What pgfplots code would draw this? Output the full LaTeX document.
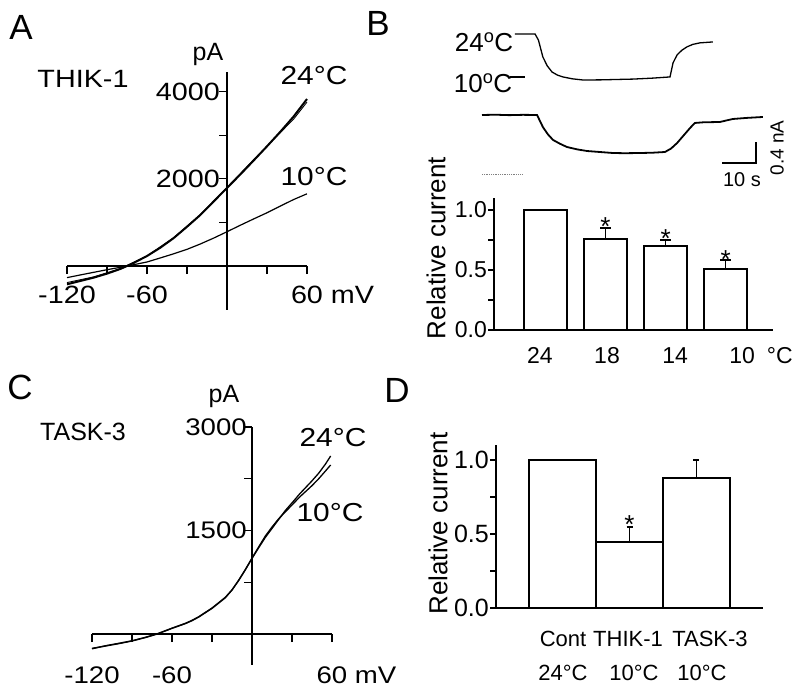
\documentclass[border=0pt]{standalone}
\usepackage{pgfplots}
\pgfplotsset{compat=1.18}
\usepackage{fontspec}
\setmainfont{Liberation Sans}
\newfontfamily\fnum{Liberation Sans}[FakeStretch=1.15]
\newcommand{\fs}[1]{\fontsize{#1}{#1}\selectfont}

\pgfplotsset{
  ivaxis/.style={
    scale only axis,
    axis lines*=middle,
    axis line style={line width=1.2pt, black},
    tick align=center,
    major tick length=8pt,
    minor tick length=8pt,
    xtick style={line width=1.2pt, black, yshift=-4pt},
    ytick style={line width=1.2pt, black, xshift=-4pt},
    clip=false,
    xtick={-120,-90,-60,-30,0,30,60},
    xticklabels={-120,,-60,,,,{60\rlap{ mV}}},
    ticklabel style={inner sep=1pt},
  },
  barax/.style={
    scale only axis,
    axis x line*=bottom,
    axis y line*=left,
    axis line style={line width=1.2pt, black},
    tick style={line width=1.2pt, black},
    tick align=outside,
    major tick length=6pt,
    minor tick length=6pt,
    ymin=0,
    ytick={0,0.5,1}, minor ytick={0.25,0.75},
    /pgf/number format/assume math mode=true,
    /pgf/number format/fixed,
    /pgf/number format/fixed zerofill,
    /pgf/number format/precision=1,
    yticklabel style={inner sep=1pt},
    xtick style={draw=none},
    ybar, clip=false,
  },
  hidax/.style={scale only axis, hide axis, clip=false, xmin=0, xmax=82.6, width=280.8pt},
}

\begin{document}
\begin{tikzpicture}[x=1pt,y=1pt]
\path[use as bounding box] (0,0) rectangle (800,695);

% ---------------- Panel A ----------------
\begin{axis}[ivaxis, at={(67pt,385pt)}, anchor=south west, width=240pt, height=238pt,
  xmin=-120, xmax=60, ymin=-1009, ymax=4450,
  ytick={1000,2000,3000,4000}, yticklabels={,2000,,4000},
  xticklabel style={font=\fnum\fs{25}, yshift=-15pt},
  yticklabel style={font=\fnum\fs{25}, xshift=-2pt}]
\addplot[black, line width=1.2pt] coordinates {
(-120,-267) (-110,-205) (-100,-145) (-90,-85) (-80,-30) (-75,0) (-70,30) (-60,92) (-50,185)
(-40,280) (-30,382) (-20,505) (-15,573) (-10,640) (0,786) (10,935) (20,1080) (30,1221)
(40,1375) (50,1525) (60,1656)};
\addplot[black, line width=2pt] coordinates {
(-120,-420) (-110,-343) (-100,-267) (-90,-175) (-80,-68) (-75,0) (-70,70) (-60,229) (-50,420)
(-40,640) (-30,900) (-20,1170) (-10,1480) (0,1790) (10,2100) (20,2420) (30,2745)
(40,3080) (50,3430) (60,3830)};
\addplot[black, line width=0.9pt] coordinates {
(-120,-380) (-100,-250) (-80,-60) (-60,232) (-40,650) (-20,1180) (0,1800) (20,2440)
(40,3060) (50,3370) (60,3760)};
\end{axis}
\node[font=\fs{35}] at (21,668) {A};
\node[font=\fs{25}] at (208,640) {pA};
\node[font=\fnum\fs{25}] at (83,616) {THIK-1};
\node[font=\fnum\fs{26}] at (314,619) {24°C};
\node[font=\fnum\fs{26}] at (314,518) {10°C};

% ---------------- Panel C ----------------
\begin{axis}[ivaxis, at={(92pt,30pt)}, anchor=south west, width=240pt, height=238pt,
  xmin=-120, xmax=60, ymin=-449, ymax=3000,
  ytick={750,1500,2250,3000}, yticklabels={,1500,,3000},
  xticklabel style={font=\fnum\fs{24}, yshift=-28pt},
  yticklabel style={font=\fnum\fs{24}}]
\addplot[black, line width=1.3pt] coordinates {
(-120,-207) (-110,-175) (-100,-140) (-90,-101) (-80,-52) (-71,0) (-60,82) (-50,150)
(-45,193) (-40,245) (-30,371) (-20,525) (-15,637) (-10,775) (-5,930) (0,1095) (5,1250)
(10,1400) (15,1530) (20,1660) (25,1790) (30,1900) (36,2036) (45,2220) (50,2330) (55,2460) (59,2580)};
\addplot[black, line width=1.3pt] coordinates {
(-120,-215) (-110,-170) (-100,-135) (-90,-98) (-80,-48) (-71,4) (-60,85) (-50,155)
(-45,198) (-40,250) (-30,377) (-20,532) (-15,640) (-10,780) (-5,935) (0,1100) (5,1262)
(10,1420) (15,1550) (20,1670) (25,1770) (30,1870) (36,1990) (45,2150) (50,2250) (55,2360) (59,2450)};
\end{axis}
\node[font=\fs{35}] at (20,308) {C};
\node[font=\fs{25}] at (224,298) {pA};
\node[font=\fs{25}] at (83,263) {TASK-3};
\node[font=\fnum\fs{26}] at (333,257) {24°C};
\node[font=\fnum\fs{26}] at (330,182) {10°C};

% ---------------- Panel B traces ----------------
\begin{axis}[hidax, at={(482pt,602.7pt)}, anchor=south west, height=61.4pt, ymin=5, ymax=25]
\addplot[black, line width=1.3pt] coordinates {
(9.7,24) (15.6,24) (16.6,22.0) (17.9,16.5) (19.2,13.6) (20.6,11.6) (22.2,10.6) (23.8,10.0)
(26.5,9.4) (29.7,9.0) (35,9.05) (44.4,9.3) (50,9.6) (55.3,10.0) (56.2,14.6) (57.4,17.2)
(58.8,18.7) (60.3,19.8) (62,20.6) (64.1,21.1) (67.9,21.4)};
\addplot[black, line width=1.3pt] coordinates {(8.2,10) (12.6,10)};
\end{axis}
\begin{axis}[hidax, at={(482pt,517pt)}, anchor=south west, height=68.25pt, ymin=0.3, ymax=1.6]
\addplot[black, line width=1.8pt] coordinates {
(0,1.50) (4,1.505) (8,1.497) (12,1.503) (16.2,1.50) (17.9,1.271) (19.4,1.13) (20.9,1.024)
(23,0.95) (25.0,0.890) (28,0.845) (30.9,0.814) (34.7,0.795) (38.5,0.776) (42,0.772)
(46.5,0.776) (50,0.781) (53.8,0.795) (55.6,0.86) (57.4,0.967) (59.3,1.11) (61.2,1.252)
(62.6,1.348) (65,1.360) (67,1.363) (70.0,1.367) (71.5,1.39) (73.8,1.424) (78,1.445) (82.6,1.462)};
\addplot[gray, densely dotted, line width=0.8pt] coordinates {(0,0.376) (12,0.376)};
\addplot[black, line width=1.2pt] coordinates {(70.6,0.586) (80.6,0.586) (80.6,0.986)};
\end{axis}
\node[font=\fs{35}] at (378,672) {B};
\node[font=\fs{26}] at (484,653) {24\textsuperscript{o}C};
\node[font=\fs{26}] at (483,612) {10\textsuperscript{o}C};
\node[font=\fs{20}] at (742,515) {10 s};
\node[font=\fs{19}, rotate=90] at (777,547) {0.4 nA};

% ---------------- Panel B bars ----------------
\begin{axis}[barax, at={(494pt,365pt)}, anchor=south west, width=279pt, height=132pt,
  xmin=-0.858, xmax=3.79, ymax=1.1, bar width=43pt,
  xtick={-0.092,1.025,2.158,3.275},
  xticklabels={24,18,14,{10\rlap{\hspace{12pt}°C}}},
  xticklabel style={font=\fs{23}, yshift=-8pt},
  yticklabel style={font=\fs{23}}]
\addplot[fill=white, draw=black, line width=1.2pt,
  error bars/.cd, y dir=plus, y explicit,
  error bar style={line width=1.2pt, black},
  error mark options={line width=1.2pt, black, mark size=5.5pt, rotate=90}]
coordinates {(0,1.0) +- (0,0) (1,0.758) +- (0,0.092) (2,0.70) +- (0,0.05) (3,0.508) +- (0,0.075)};
\node[font=\fs{26}, anchor=base] at (axis cs:1,0.85) [yshift=-8pt] {*};
\node[font=\fs{26}, anchor=base] at (axis cs:2,0.75) [yshift=-8pt] {*};
\node[font=\fs{26}, anchor=base] at (axis cs:3,0.583) [yshift=-8pt] {*};
\end{axis}
\node[font=\fs{26}, rotate=90] at (436,447) {Relative current};

% ---------------- Panel D ----------------
\begin{axis}[barax, at={(496pt,87pt)}, anchor=south west, width=267pt, height=163pt,
  xmin=-0.993, xmax=2.993, ymax=1.101, bar width=67pt,
  xtick={0.007,0.978,2.201},
  xticklabels={Cont,THIK-1,TASK-3},
  xticklabel style={font=\fs{22}, yshift=-14pt},
  extra x ticks={0.007,1.067,2.082},
  extra x tick labels={24°C,10°C,10°C},
  extra x tick style={major tick length=0pt, xticklabel style={yshift=-40pt}},
  yticklabel style={font=\fs{25}}]
\addplot[fill=white, draw=black, line width=1.2pt,
  error bars/.cd, y dir=plus, y explicit,
  error bar style={line width=1.2pt, black},
  error mark options={line width=1.2pt, black, mark size=3pt, rotate=90}]
coordinates {(0,1.0) +- (0,0) (1,0.446) +- (0,0.101) (2,0.878) +- (0,0.122)};
\node[font=\fs{26}, anchor=base] at (axis cs:1,0.547) [yshift=-6pt] {*};
\end{axis}
\node[font=\fs{35}] at (397,305) {D};
\node[font=\fs{26}, rotate=90] at (438,171.5) {Relative current};
\end{tikzpicture}
\end{document}
